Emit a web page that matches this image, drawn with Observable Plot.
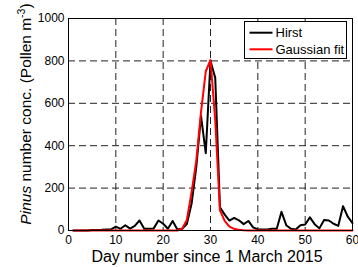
<!DOCTYPE html>
<html>
<head>
<meta charset="utf-8">
<script src="https://cdn.jsdelivr.net/npm/d3@7"></script>
<script src="https://cdn.jsdelivr.net/npm/@observablehq/plot@0.6"></script>
<style>
  html, body { margin: 0; padding: 0; background: white; }
  svg { display: block; }
</style>
</head>
<body>
<div id="chart"></div>
<script>
const days = [1,2,3,4,5,6,7,8,9,10,11,12,13,14,15,16,17,18,19,20,21,22,23,24,25,26,27,28,29,30,
              31,32,33,34,35,36,37,38,39,40,41,42,43,44,45,46,47,48,49,50,51,52,53,54,55,56,57,58,59,60];
const hirst = [0,0,0,0,2,2,3,5,5,18,8,25,9,22,47,8,8,10,47,32,8,45,5,8,30,126,300,540,365,800,
               720,110,75,47,60,48,30,45,15,5,5,5,8,8,88,25,8,5,25,28,62,30,10,50,47,32,22,115,65,35];
const gaussFit = [0,0,0,0,0,0,0,0,0,0,0,0,0,0,0,0,0,0,0,0,0,0,0,8,50,180,330,560,750,805,
                  520,95,45,18,8,3,1,0,0,0,0,0,0,0,0,0,0,0,0,0,0,0,0,0,0,0,0,0,0,0];
const xTicks = [0,10,20,30,40,50,60];
const yTicks = [0,200,400,600,800,1000];
const seriesNames = ["Hirst", "Gaussian fit"];
const seriesColors = ["#000000", "#ff0000"];

const rows = [];
days.forEach((d, i) => {
  rows.push({day: d, value: hirst[i], series: seriesNames[0]});
  rows.push({day: d, value: gaussFit[i], series: seriesNames[1]});
});

const font = "'Liberation Sans', Arial, Helvetica, sans-serif";

const plot = Plot.plot({
  width: 358,
  height: 267,
  marginLeft: 68,
  marginRight: 6,
  marginTop: 18,
  marginBottom: 37,
  style: {fontFamily: font, fontSize: "12px", background: "white", color: "black", overflow: "visible"},
  x: {domain: [0, 60]},
  y: {domain: [0, 1000]},
  marks: [
    Plot.gridX(xTicks.slice(1, -1), {stroke: "#222", strokeOpacity: 1, strokeDasharray: "7,4"}),
    Plot.gridY(yTicks.slice(1, -1), {stroke: "#222", strokeOpacity: 1, strokeDasharray: "7,4"}),
    Plot.line(rows.filter(r => r.series === seriesNames[0]), {x: "day", y: "value", stroke: seriesColors[0], strokeWidth: 2}),
    Plot.line(rows.filter(r => r.series === seriesNames[1]), {x: "day", y: "value", stroke: seriesColors[1], strokeWidth: 2}),
    Plot.frame({stroke: "black", strokeWidth: 1}),
    Plot.axisX(xTicks, {tickSize: 0, tickPadding: 5, label: null, fontSize: 12, tickFormat: d => String(d)}),
    Plot.axisY(yTicks, {tickSize: 0, tickPadding: 4, label: null, fontSize: 12, tickFormat: d => String(d)})
  ]
});

document.getElementById("chart").appendChild(plot);

const svg = d3.select(plot);

// x label
svg.append("text")
  .attr("x", 207).attr("y", 261.5)
  .attr("text-anchor", "middle")
  .attr("font-family", font).attr("font-size", 16).attr("fill", "black")
  .text("Day number since 1 March 2015");

// y label
const yl = svg.append("text")
  .attr("transform", "translate(31,114) rotate(-90)")
  .attr("text-anchor", "middle")
  .attr("font-family", font).attr("font-size", 15.5).attr("fill", "black");
yl.append("tspan").attr("font-style", "italic").text("Pinus");
yl.append("tspan").text(" number conc. (Pollen m");
yl.append("tspan").attr("font-size", 10.5).attr("dy", -6).text("-3");
yl.append("tspan").attr("dy", 6).text(")");

// legend
const lg = svg.append("g").attr("text-anchor", "start");
lg.append("rect").attr("x", 244.5).attr("y", 21.5).attr("width", 102).attr("height", 37)
  .style("fill", "white").style("stroke", "black").style("stroke-width", "1px");
seriesNames.forEach((name, i) => {
  const yy = 32.7 + i * 16.6;
  lg.append("line").attr("x1", 249.5).attr("x2", 272.5).attr("y1", yy).attr("y2", yy)
    .style("stroke", seriesColors[i]).style("stroke-width", "2px");
  lg.append("text").attr("x", 275.5).attr("y", yy).attr("dy", "0.35em")
    .attr("text-anchor", "start")
    .attr("font-family", font).attr("font-size", 13).attr("fill", "black").text(name);
});
</script>
</body>
</html>
